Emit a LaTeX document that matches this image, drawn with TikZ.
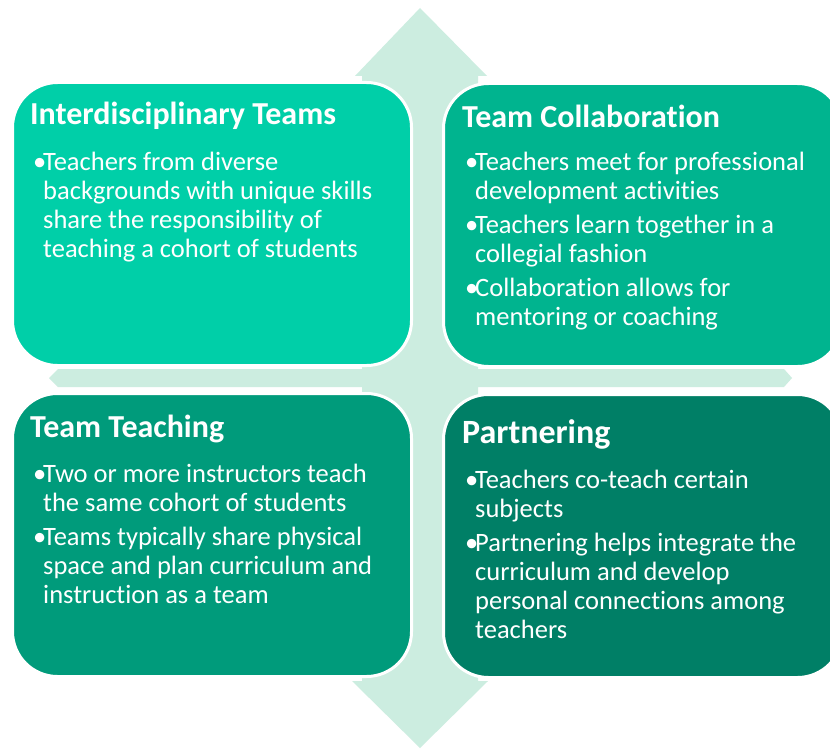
\documentclass[tikz,border=0pt]{standalone}
\usepackage{fontspec}
\setmainfont{Carlito}[RawFeature={-liga}]
\usepackage{tikz}
\usetikzlibrary{positioning}

\definecolor{tealA}{HTML}{00CFA8}
\definecolor{tealB}{HTML}{00B48F}
\definecolor{tealC}{HTML}{009B7B}
\definecolor{tealD}{HTML}{007F66}
\definecolor{mint}{HTML}{CCEDE0}

\tikzset{
  box/.style={draw=white,line width=3pt,rounded corners=45pt,anchor=north west,
    minimum width=399pt,minimum height=283pt,inner sep=0pt},
  head/.style={text=white,anchor=base west,inner sep=0pt,
    font=\fontsize{32}{38}\selectfont\bfseries},
  % multi-line node: base anchor sits on the last line
  body/.style={text=white,anchor=base west,inner sep=0pt,align=left,
    font=\fontsize{26.5}{29}\selectfont}
}
\newcommand\bul{\makebox[10pt][l]{\textbullet}}
\newcommand\ind{\hspace*{10pt}}

\begin{document}
\begin{tikzpicture}[x=1pt,y=-1pt]
  \clip (0,0) rectangle (830,749);
  \fill[white] (0,0) rectangle (830,749);
  % cross arrow behind the boxes
  \fill[mint] (420,8) -- (487,76) -- (478,76) -- (478,369) -- (784,369)
    -- (792,378) -- (784,387) -- (478,387) -- (478,681) -- (488,681)
    -- (420,748) -- (352,681) -- (362,681) -- (362,387) -- (58,387)
    -- (49,378) -- (58,369) -- (362,369) -- (362,76) -- (355,76) -- cycle;

  % the four boxes
  \node[box,fill=tealA] (tl) at (11,81) {};
  \node[box,fill=tealB] (tr) at (442,82) {};
  \node[box,fill=tealC] (bl) at (11,392) {};
  \node[box,fill=tealD] (br) at (442,393) {};

  \node[head] (tlhead) at (30,125) {Interdisciplinary Teams};
  \node[body] (tlbody) at (33,257) {\bul Teachers from diverse\\
    \ind backgrounds with unique skills\\
    \ind share the responsibility of\\
    \ind teaching a cohort of students};

  \node[head] (trhead) at (462,128) {Team Collaboration};
  \node[body] (trbody) at (465,325) {\bul Teachers meet for professional\\
    \ind development activities\\[5pt]
    \bul Teachers learn together in a\\
    \ind collegial fashion\\[5pt]
    \bul Collaboration allows for\\
    \ind mentoring or coaching};

  \node[head] (blhead) at (30,437) {Team Teaching};
  \node[body] (blbody) at (33,603) {\bul Two or more instructors teach\\
    \ind the same cohort of students\\[5pt]
    \bul Teams typically share physical\\
    \ind space and plan curriculum and\\
    \ind instruction as a team};

  \node[head,font=\fontsize{34}{40}\selectfont\bfseries] (brhead) at (462,443) {Partnering};
  \node[body] (brbody) at (465,638) {\bul Teachers co-teach certain\\
    \ind subjects\\[5pt]
    \bul Partnering helps integrate the\\
    \ind curriculum and develop\\
    \ind personal connections among\\
    \ind teachers};
\end{tikzpicture}
\end{document}
